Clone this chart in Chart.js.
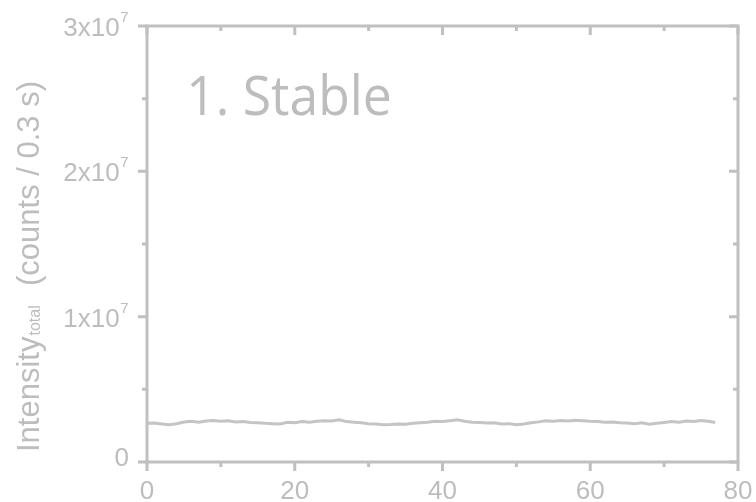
<!DOCTYPE html>
<html>
<head>
<meta charset="utf-8">
<script src="https://cdn.jsdelivr.net/npm/chart.js@4.4.1/dist/chart.umd.min.js"></script>
<style>
  html, body { margin: 0; padding: 0; background: #ffffff; }
  #wrap { width: 756px; height: 502px; position: relative; }
</style>
</head>
<body>
<div id="wrap"><canvas id="c" width="756" height="502"></canvas></div>
<script>
// ---- data (time in s, intensity in counts / 0.3 s) ----
const timeValues = [0,1,2,3,4,5,6,7,8,9,10,11,12,13,14,15,16,17,18,19,20,21,22,23,24,25,26,27,28,29,30,31,32,33,34,35,36,37,38,39,40,41,42,43,44,45,46,47,48,49,50,51,52,53,54,55,56,57,58,59,60,61,62,63,64,65,66,67,68,69,70,71,72,73,74,75,76,76.9];
const intensityValues = [
  2.66e6,2.68e6,2.62e6,2.56e6,2.63e6,2.75e6,2.80e6,2.74e6,2.82e6,2.86e6,
  2.80e6,2.84e6,2.76e6,2.78e6,2.72e6,2.70e6,2.66e6,2.64e6,2.62e6,2.74e6,
  2.70e6,2.78e6,2.74e6,2.80e6,2.84e6,2.82e6,2.90e6,2.78e6,2.74e6,2.70e6,
  2.64e6,2.62e6,2.56e6,2.58e6,2.62e6,2.60e6,2.66e6,2.70e6,2.74e6,2.80e6,
  2.78e6,2.84e6,2.90e6,2.80e6,2.74e6,2.72e6,2.68e6,2.70e6,2.62e6,2.64e6,
  2.56e6,2.62e6,2.70e6,2.76e6,2.84e6,2.80e6,2.86e6,2.82e6,2.88e6,2.84e6,
  2.80e6,2.78e6,2.74e6,2.76e6,2.70e6,2.68e6,2.64e6,2.70e6,2.60e6,2.66e6,
  2.72e6,2.78e6,2.74e6,2.82e6,2.78e6,2.86e6,2.80e6,2.72e6
];
const xMajorTicks = [0, 20, 40, 60, 80];
const xMinorTicks = [10, 30, 50, 70];
const yMajorTicks = [0, 1e7, 2e7, 3e7];
const yMinorTicks = [0.5e7, 1.5e7, 2.5e7];
const xTickLabels = ['0', '20', '40', '60', '80'];
const yTickLabels = [['0', ''], ['1x10', '7'], ['2x10', '7'], ['3x10', '7']];
const yTitleMain = 'Intensity';
const yTitleSub = 'total';
const yTitleRest = '(counts / 0.3 s)';
const panelLabel = '1. Stable';

const GREY = '#c0c0c0';
const TEXT = '#bdbdbd';
const TICK_FONT = '26px "Liberation Sans", Arial, sans-serif';
const SUP_FONT = '15px "Liberation Sans", Arial, sans-serif';

const framePlugin = {
  id: 'frame',
  afterDraw(chart) {
    const ctx = chart.ctx;
    const xs = chart.scales.x, ys = chart.scales.y;
    const L = chart.chartArea.left, R = chart.chartArea.right;
    const T = chart.chartArea.top, B = chart.chartArea.bottom;
    ctx.save();
    ctx.strokeStyle = GREY;
    ctx.lineWidth = 3;
    ctx.lineCap = 'butt';
    ctx.beginPath();
    ctx.moveTo(L, B); ctx.lineTo(R, B); ctx.lineTo(R, T); ctx.lineTo(L, T); ctx.closePath();
    ctx.stroke();
    // ticks
    ctx.beginPath();
    xMajorTicks.forEach(v => {
      const p = xs.getPixelForValue(v);
      ctx.moveTo(p, B); ctx.lineTo(p, B + 9);
      ctx.moveTo(p, T); ctx.lineTo(p, T + 9);
    });
    xMinorTicks.forEach(v => {
      const p = xs.getPixelForValue(v);
      ctx.moveTo(p, B); ctx.lineTo(p, B + 5);
      ctx.moveTo(p, T); ctx.lineTo(p, T + 5);
    });
    yMajorTicks.forEach(v => {
      const p = ys.getPixelForValue(v);
      ctx.moveTo(L, p); ctx.lineTo(L - 9, p);
      ctx.moveTo(R, p); ctx.lineTo(R - 9, p);
    });
    yMinorTicks.forEach(v => {
      const p = ys.getPixelForValue(v);
      ctx.moveTo(L, p); ctx.lineTo(L - 5, p);
      ctx.moveTo(R, p); ctx.lineTo(R - 5, p);
    });
    ctx.stroke();

    // x tick labels
    ctx.fillStyle = TEXT;
    ctx.font = TICK_FONT;
    ctx.textAlign = 'center';
    ctx.textBaseline = 'alphabetic';
    xMajorTicks.forEach((v, i) => {
      ctx.fillText(xTickLabels[i], xs.getPixelForValue(v), 499);
    });

    // y tick labels with superscript
    const rightEdge = 128;
    yMajorTicks.forEach((v, i) => {
      const p = ys.getPixelForValue(v);
      const [main, sup] = yTickLabels[i];
      ctx.textAlign = 'left';
      if (sup) {
        ctx.font = SUP_FONT;
        const sw = ctx.measureText(sup).width;
        ctx.font = TICK_FONT;
        const mw = ctx.measureText(main).width;
        const x0 = rightEdge - sw - mw;
        ctx.fillText(main, x0, p + 10);
        ctx.font = SUP_FONT;
        ctx.fillText(sup, x0 + mw + 0.5, p - 4);
      } else {
        ctx.font = TICK_FONT;
        const mw = ctx.measureText(main).width;
        ctx.fillText(main, rightEdge - mw + 1, p + 4);
      }
    });

    // y title, rotated
    ctx.save();
    ctx.translate(38.5, 452);
    ctx.rotate(-Math.PI / 2);
    ctx.textAlign = 'left';
    ctx.font = '31px "Liberation Sans", Arial, sans-serif';
    ctx.fillText(yTitleMain, 0, 0);
    const w1 = ctx.measureText(yTitleMain).width;
    ctx.font = '16px "Liberation Sans", Arial, sans-serif';
    ctx.fillText(yTitleSub, w1 + 1, 1.5);
    ctx.font = '31px "Liberation Sans", Arial, sans-serif';
    ctx.fillText(yTitleRest, 166, 0);
    ctx.restore();

    // panel label
    ctx.save();
    ctx.font = '55px "Open Sans", "Noto Sans", sans-serif';
    ctx.textAlign = 'left';
    const m = ctx.measureText(panelLabel);
    const inkW = m.actualBoundingBoxLeft + m.actualBoundingBoxRight;
    const sx = 200 / inkW;
    ctx.translate(190, 115);
    ctx.scale(sx, 1);
    ctx.fillText(panelLabel, m.actualBoundingBoxLeft, 0);
    ctx.restore();

    ctx.restore();
  }
};

new Chart(document.getElementById('c'), {
  type: 'line',
  data: {
    datasets: [{
      data: timeValues.map((t, i) => ({ x: t, y: intensityValues[i] })),
      borderColor: '#c4c4c4',
      borderWidth: 3,
      pointRadius: 0,
      tension: 0,
      fill: false
    }]
  },
  options: {
    responsive: false,
    animation: false,
    events: [],
    layout: { padding: { left: 147, right: 18, top: 26, bottom: 40 } },
    plugins: { legend: { display: false }, tooltip: { enabled: false }, title: { display: false } },
    scales: {
      x: { type: 'linear', min: 0, max: 80, display: false },
      y: { type: 'linear', min: 0, max: 3e7, display: false }
    }
  },
  plugins: [framePlugin]
});
</script>
</body>
</html>
